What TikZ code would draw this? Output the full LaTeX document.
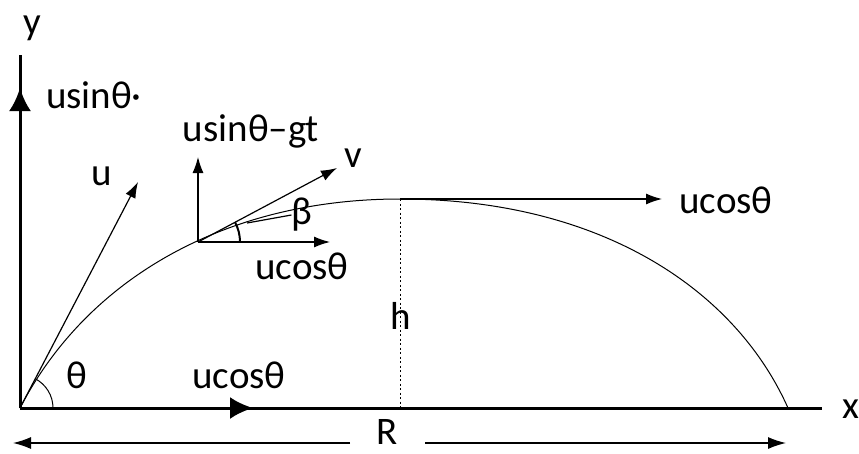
\documentclass[tikz,border=0pt]{standalone}
\usepackage{fontspec}
\setmainfont{Carlito}
\usetikzlibrary{arrows.meta,angles}
\begin{document}
\begin{tikzpicture}[x=1pt,y=-1pt,
  axisline/.style={line width=3pt},
  vecline/.style={line width=1.2pt,-{Latex[length=16pt,width=11pt]}},
  dimline/.style={line width=1.3pt,-{Latex[length=18pt,width=12pt]}},
  bigtip/.style={line width=3pt,-{Latex[length=23pt,width=22pt]}},
  traj/.style={line width=1pt},
  lbl/.style={font=\fontsize{39}{44}\selectfont, inner sep=0pt}
]
\useasboundingbox (0,0) rectangle (859,453);
% key points
\coordinate (O) at (20,408);
\coordinate (ytip) at (20,88);
\coordinate (ytop) at (20,55);
\coordinate (xtip) at (253,408);
\coordinate (xend) at (822,408);
\coordinate (A) at (400,199);
\coordinate (E) at (788,408);
\coordinate (P) at (198,242);
\coordinate (utip) at (138,182);
\coordinate (vtip) at (337,168);
\coordinate (vy) at (198,157);
\coordinate (vx) at (330,242);
\coordinate (uxr) at (662,199);
\coordinate (Rl) at (13,443);
\coordinate (Rr) at (786,443);
\coordinate (hb) at (400,408);
% axes
\draw[axisline] (O) -- (ytop);
\draw[bigtip] (O) -- (ytip);
\draw[axisline] (O) -- (xend);
\draw[bigtip] (O) -- (xtip);
% trajectory
\draw[traj] (O) .. controls (89,275) and (230,199) .. (A)
            .. controls (600,199) and (735,289) .. (E);
% initial velocity
\draw[vecline] (O) -- (utip);
\pic[draw, line width=1pt, angle radius=33pt] {angle = xend--O--utip};
% velocity at P
\draw[vecline] (P) -- (vy);
\draw[vecline] (P) -- (vx);
\draw[vecline] (P) -- (vtip);
\pic[draw, line width=2pt, angle radius=42pt] {angle = vx--P--vtip};
% top horizontal velocity
\draw[vecline] (A) -- (uxr);
% height
\draw[line width=1pt, dash pattern=on 2pt off 2.5pt] (A) -- (hb);
% labels
\node[lbl] (ylab) at (32,28) {y};
\node[lbl] (xlab) at (851,409) {x};
\node[lbl] (usin) at (94,95) {usinθ·};
\node[lbl] (usingt) at (251,131) {usinθ–gt};
\node[lbl] (vlab) at (353,158) {v};
\node[lbl] (ulab) at (102,176) {u};
\node[lbl] (blab) at (302,215) {β};
\node[lbl] (ucos1) at (302,266) {ucosθ};
\node[lbl] (ucos2) at (726,200) {ucosθ};
\node[lbl] (ucos3) at (239,375) {ucosθ};
\node[lbl] (hlab) at (401,316) {h};
\node[lbl] (thlab) at (77,375) {θ};
\node[lbl] (Rlab) at (387,432) {R};
% beta leader
\coordinate (bl) at (247,223);
\draw[line width=1.2pt] (bl) -- (blab.west);
% range arrows
\coordinate (Rls) at (350,443);
\coordinate (Rrs) at (425,443);
\draw[dimline] (Rls) -- (Rl);
\draw[dimline] (Rrs) -- (Rr);
\end{tikzpicture}
\end{document}
